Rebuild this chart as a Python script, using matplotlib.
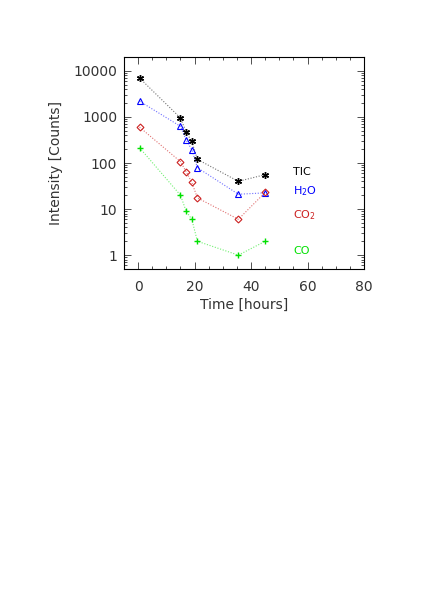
import matplotlib
matplotlib.use("Agg")
import matplotlib.pyplot as plt
from matplotlib.ticker import MultipleLocator, LogLocator, NullFormatter, FixedLocator

# time of each measurement [hours]
time_h = [0.5, 15, 17, 19, 21, 35.5, 45]

# intensities
tic = [7000, 950, 470, 295, 120, 40, 56]
h2o = [2200, 625, 315, 196, 79, 21, 22.5]
co2 = [600, 107, 65, 38, 17.5, 6, 23]
co = [215, 20, 9, 6, 2, 1, 2]

series_names = ["TIC", "H$_2$O", "CO$_2$", "CO"]
series_colors = ["black", "#0000ff", "#cc2020", "#00e000"]
label_y = [63, 25, 7.5, 1.25]

fig = plt.figure(figsize=(4.24, 5.99), dpi=100)
ax = fig.add_axes([0.2925, 0.5509, 0.566, 0.3539])

series = [tic, h2o, co2, co]
markers = [(6, 2, 0), "^", "D", "+"]
msizes = [5, 4.5, 3.5, 5]
line_cols = ["0.45", "#7070ff", "#e07070", "#70f070"]

for vals, col, lcol, mk, ms in zip(series, series_colors, line_cols, markers, msizes):
    ax.plot(time_h, vals, linestyle=(0, (1, 1.5)), linewidth=0.8, color=lcol)
    if mk in ("^", "D"):
        ax.plot(time_h, vals, linestyle="none", marker=mk, markersize=ms,
                markerfacecolor="none", markeredgecolor=col, markeredgewidth=0.8)
    else:
        ax.plot(time_h, vals, linestyle="none", marker=mk, markersize=ms,
                color=col, markeredgewidth=1.0)

for name, col, yy in zip(series_names, series_colors, label_y):
    ax.text(55, yy, name, color=col, fontsize=8, ha="left", va="center")

ax.set_yscale("log")
ax.set_xlim(-5, 80)
ax.set_ylim(0.5, 20000)

ax.xaxis.set_major_locator(FixedLocator([0, 20, 40, 60, 80]))
ax.xaxis.set_minor_locator(MultipleLocator(5))
ax.yaxis.set_major_locator(FixedLocator([1, 10, 100, 1000, 10000]))
ax.yaxis.set_minor_locator(LogLocator(base=10, subs=range(2, 10)))
ax.yaxis.set_minor_formatter(NullFormatter())
ax.set_yticklabels(["1", "10", "100", "1000", "10000"])

ax.tick_params(which="both", direction="in", top=True, right=True,
               labelsize=10, width=0.6, colors="0.2")
ax.tick_params(which="major", length=5)
ax.tick_params(axis="x", which="major", pad=8)
ax.tick_params(axis="y", which="major", pad=5)
ax.tick_params(which="minor", length=2.5)
for s in ax.spines.values():
    s.set_linewidth(0.8)

ax.set_xlabel("Time [hours]", fontsize=10, color="0.2", labelpad=3)
ax.set_ylabel("Intensity [Counts]", fontsize=10, color="0.2", labelpad=7)

fig.savefig("out.png", dpi=100)
